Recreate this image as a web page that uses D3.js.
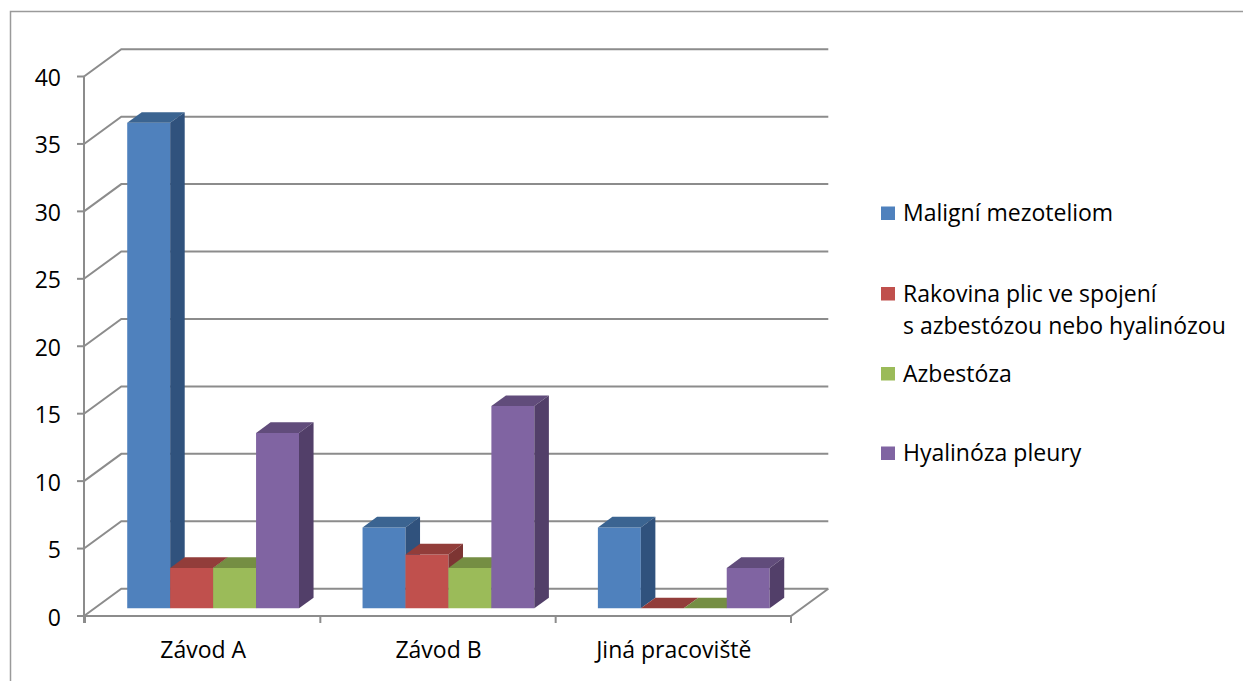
<!DOCTYPE html>
<html>
<head>
<meta charset="utf-8">
<script src="https://cdn.jsdelivr.net/npm/d3@7"></script>
<style>
  html, body { margin: 0; padding: 0; background: #fff; }
  svg { display: block; }
  text { font-family: "Open Sans", Lato, sans-serif; fill: #000; }
</style>
</head>
<body>
<svg id="chart" width="1243" height="681"></svg>
<script>
// Occupational asbestos-related diseases by workplace
const categories = ["Závod A", "Závod B", "Jiná pracoviště"];
const seriesNames = [
  "Maligní mezoteliom",
  "Rakovina plic ve spojení\ns azbestózou nebo hyalinózou",
  "Azbestóza",
  "Hyalinóza pleury"
];
const maligniMezoteliom = [36, 6, 6];
const rakovinaPlic = [3, 4, 0];
const azbestoza = [3, 3, 0];
const hyalinozaPleury = [13, 15, 3];
const yTicks = [0, 5, 10, 15, 20, 25, 30, 35, 40];

const seriesValues = [maligniMezoteliom, rakovinaPlic, azbestoza, hyalinozaPleury];
const faceColors = [
  { front: "#4f81bd", top: "#3b6491", side: "#30527d" },
  { front: "#c0504d", top: "#923d3a", side: "#7d3533" },
  { front: "#9bbb59", top: "#758e43", side: "#657a3a" },
  { front: "#8064a2", top: "#614c7b", side: "#523f69" }
];

const svg = d3.select("#chart");
const fontSize = 23;

// Outer chart frame (right and bottom edges fall outside the view)
svg.append("rect")
  .attr("x", 10.5).attr("y", 11.5)
  .attr("width", 1300).attr("height", 800)
  .attr("fill", "none").attr("stroke", "#9a9a9a").attr("stroke-width", 1.5);

// Oblique 3D projection: depth vector from the front plane to the back wall
const depthX = 37.3, depthY = -27.3;
const frontLeft = 85, frontRight = 791;

const y = d3.scaleLinear().domain([0, 40]).range([616, 76.5]);
const x = d3.scaleBand().domain(categories).range([frontLeft, frontRight])
  .paddingInner(0.27).paddingOuter(0.135);
const xs = d3.scaleBand().domain(d3.range(seriesNames.length)).range([0, x.bandwidth()]);

const gridColor = "#8c8c8c";
const grid = svg.append("g").attr("fill", "none").attr("stroke", gridColor).attr("stroke-width", 2);

// Back wall gridlines and side wall diagonals
yTicks.forEach(v => {
  const yf = y(v);
  grid.append("polyline")
    .attr("points", [[frontLeft - 1, yf], [frontLeft - 1 + depthX, yf + depthY], [frontRight + depthX, yf + depthY]].map(p => p.join(",")).join(" "));
});
// Floor front edge and right edge
grid.append("polyline")
  .attr("points", [[frontLeft - 1, y(0)], [frontRight, y(0)], [frontRight + depthX, y(0) + depthY]].map(p => p.join(",")).join(" "));

// Vertical value axis on the front-left edge
const axisG = svg.append("g").attr("stroke", gridColor).attr("stroke-width", 2);
axisG.append("line").attr("x1", frontLeft - 1).attr("x2", frontLeft - 1)
  .attr("y1", y(40)).attr("y2", y(0) + 7);
yTicks.forEach(v => {
  axisG.append("line").attr("x1", frontLeft - 8).attr("x2", frontLeft - 1)
    .attr("y1", y(v)).attr("y2", y(v));
});
// Category tick marks below the floor
const catEdges = [frontLeft, ...categories.map(c => x(c) + x.bandwidth() + x.step() * x.paddingInner() / 2)];
catEdges[catEdges.length - 1] = frontRight;
catEdges.forEach(cx => {
  axisG.append("line").attr("x1", cx).attr("x2", cx).attr("y1", y(0)).attr("y2", y(0) + 7);
});

// Value labels
svg.append("g").selectAll("text").data(yTicks).join("text")
  .attr("x", 61).attr("y", d => y(d) + 9.5)
  .attr("text-anchor", "end").attr("font-size", fontSize)
  .text(d => d);

// Category labels
svg.append("g").selectAll("text").data(categories).join("text")
  .attr("x", d => x(d) + x.bandwidth() / 2 + 0.5).attr("y", 658)
  .attr("text-anchor", "middle").attr("font-size", fontSize)
  .text(d => d);

// Bars: front face sits a little behind the front plane
const f0 = 0.28, f1 = 0.67;
const ox = depthX * f0, oy = depthY * f0;
const dx = depthX * (f1 - f0), dy = depthY * (f1 - f0);
const bars = svg.append("g");
categories.forEach((cat, ci) => {
  seriesValues.forEach((vals, si) => {
    const v = vals[ci];
    const x0 = x(cat) + xs(si) + ox;
    const x1 = x0 + xs.bandwidth();
    const yb = y(0) + oy;
    const yt = y(v) + oy;
    const col = faceColors[si];
    const pts = a => a.map(p => p.join(",")).join(" ");
    bars.append("polygon").attr("fill", col.front)
      .attr("points", pts([[x0, yb], [x1, yb], [x1, yt], [x0, yt]]));
    bars.append("polygon").attr("fill", col.top)
      .attr("points", pts([[x0, yt], [x1, yt], [x1 + dx, yt + dy], [x0 + dx, yt + dy]]));
    bars.append("polygon").attr("fill", col.side)
      .attr("points", pts([[x1, yb], [x1 + dx, yb + dy], [x1 + dx, yt + dy], [x1, yt]]));
  });
});

// Legend
const legendBaselines = [221, 301.5, 381.5, 461];
const legend = svg.append("g");
seriesNames.forEach((name, i) => {
  const by = legendBaselines[i];
  legend.append("rect").attr("x", 881).attr("y", by - 14.5)
    .attr("width", 14).attr("height", 13.5).attr("fill", faceColors[i].front);
  const t = legend.append("text").attr("x", 903).attr("y", by).attr("font-size", fontSize);
  name.split("\n").forEach((line, li) => {
    t.append("tspan").attr("x", 903).attr("dy", li === 0 ? 0 : 32.5).text(line);
  });
});
</script>
</body>
</html>
